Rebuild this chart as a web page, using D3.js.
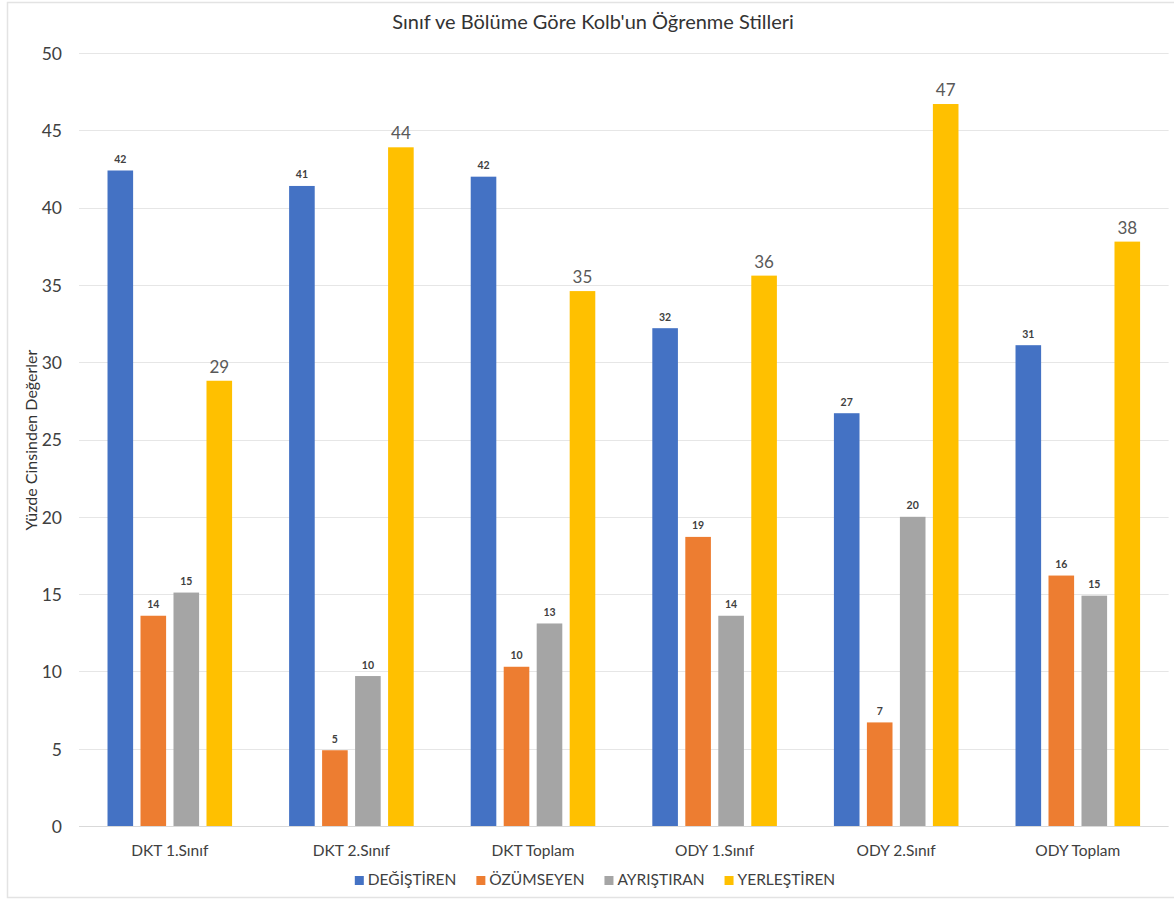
<!DOCTYPE html>
<html><head><meta charset="utf-8">
<script src="https://cdn.jsdelivr.net/npm/d3@7"></script>
<style>
html,body{margin:0;padding:0;background:#fff;}
svg text{font-family:"Lato","Open Sans",sans-serif;}
</style></head>
<body>
<svg id="chart" width="1174" height="899"></svg>
<script>
const categories = ["DKT 1.Sınıf","DKT 2.Sınıf","DKT Toplam","ODY 1.Sınıf","ODY 2.Sınıf","ODY Toplam"];
const seriesNames = ["DEĞİŞTİREN","ÖZÜMSEYEN","AYRIŞTIRAN","YERLEŞTİREN"];
const degistiren = [42.4, 41.4, 42.0, 32.2, 26.7, 31.1];
const ozumseyen = [13.6, 4.9, 10.3, 18.7, 6.7, 16.2];
const ayristiran = [15.1, 9.7, 13.1, 13.6, 20.0, 14.9];
const yerlestiren = [28.8, 43.9, 34.6, 35.6, 46.7, 37.8];
const colors = ["#4472C4","#ED7D31","#A5A5A5","#FFC000"];
const yTicks = [0,5,10,15,20,25,30,35,40,45,50];
const title = "Sınıf ve Bölüme Göre Kolb'un Öğrenme Stilleri";
const yTitle = "Yüzde Cinsinden Değerler";

const seriesValues = [degistiren, ozumseyen, ayristiran, yerlestiren];

const svg = d3.select("#chart");

// frame
svg.append("rect").attr("x",7.5).attr("y",2.5).attr("width",1180).attr("height",895)
  .attr("fill","#fff").attr("stroke","#e3e3e3").attr("stroke-width",1.5);

const x0 = d3.scaleBand().domain(categories).range([79,1168.6]).paddingInner(0.314).paddingOuter(0.157);
const x1 = d3.scaleBand().domain(seriesNames).range([0,x0.bandwidth()]).paddingInner(0.224).paddingOuter(0);
const y = d3.scaleLinear().domain([0,50]).range([826,53]);

// grid
const grid = svg.append("g");
grid.selectAll("line").data(yTicks).join("line")
  .attr("x1",79).attr("x2",1168.6)
  .attr("y1",d=>Math.round(y(d))+0.5).attr("y2",d=>Math.round(y(d))+0.5)
  .attr("stroke",d=>d===0?"#d9d9d9":"#e6e6e6").attr("stroke-width",1);

// y axis labels
const yAxis = d3.axisLeft(y).tickValues(yTicks).tickSize(0).tickPadding(0);
const ga = svg.append("g").attr("transform","translate(62,0)").call(yAxis);
ga.select(".domain").remove();
ga.selectAll("text").attr("font-size",17.5).attr("fill","#404040").attr("font-family","Lato, sans-serif").attr("dy","0.36em");

// x axis labels
const xAxis = d3.axisBottom(x0).tickSize(0).tickPadding(0);
const gx = svg.append("g").attr("transform","translate(0,842)").call(xAxis);
gx.select(".domain").remove();
gx.selectAll("text").attr("font-size",15.5).attr("fill","#404040").attr("font-family","Lato, sans-serif").attr("dy","0.9em");

// bars
const groups = svg.append("g").selectAll("g").data(categories).join("g")
  .attr("transform",d=>`translate(${x0(d)},0)`);

groups.each(function(cat,ci){
  const g = d3.select(this);
  const rows = seriesNames.map((s,si)=>({s,si,v:seriesValues[si][ci]}));
  g.selectAll("rect").data(rows).join("rect")
    .attr("x",d=>x1(d.s)).attr("width",x1.bandwidth())
    .attr("y",d=>y(d.v)).attr("height",d=>y(0)-y(d.v))
    .attr("fill",d=>colors[d.si]);
  g.selectAll("text").data(rows).join("text")
    .attr("x",d=>x1(d.s)+x1.bandwidth()/2)
    .attr("y",d=>y(d.v)-(d.si===3?8:7.5))
    .attr("text-anchor","middle")
    .attr("font-size",d=>d.si===3?17:10.5)
    .attr("font-weight",d=>d.si===3?400:700)
    .attr("fill",d=>d.si===3?"#595959":"#404040")
    .text(d=>Math.round(d.v));
});

// title
svg.append("text").attr("x",593).attr("y",29).attr("text-anchor","middle")
  .attr("font-size",20).attr("fill","#333").text(title);

// y title
svg.append("text").attr("transform","translate(37,440) rotate(-90)")
  .attr("text-anchor","middle").attr("font-size",16).attr("fill","#333").text(yTitle);

// legend
const leg = svg.append("g");
let lx = 0;
seriesNames.forEach((s,i)=>{
  const it = leg.append("g").attr("transform",`translate(${lx},0)`);
  it.append("rect").attr("x",0).attr("y",-9).attr("width",9).attr("height",9).attr("fill",colors[i]);
  const t = it.append("text").attr("x",13).attr("y",0).attr("font-size",15.5).attr("fill","#404040").text(s);
  const w = t.node().getComputedTextLength();
  lx += 13 + w + 20;
});
const totalW = lx - 20;
leg.attr("transform",`translate(${595-totalW/2},885)`);
</script>
</body></html>
